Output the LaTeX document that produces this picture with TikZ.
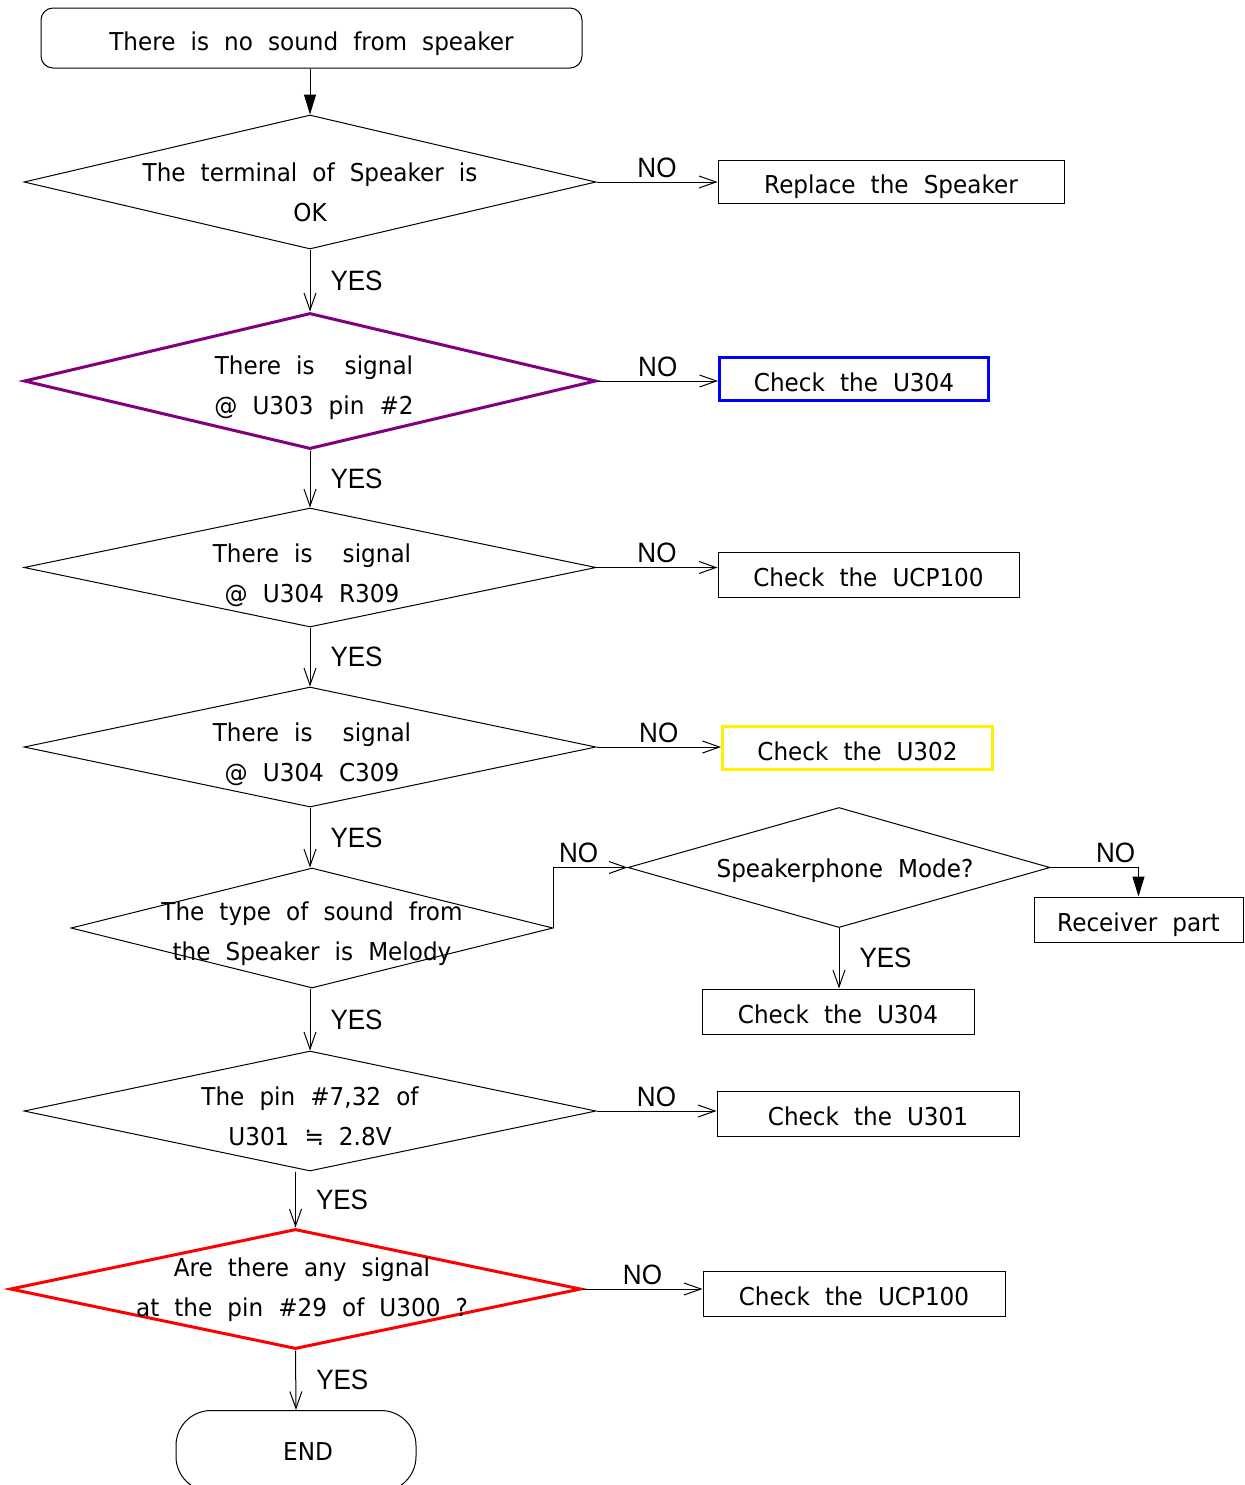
\documentclass[tikz,border=0pt]{standalone}
\usepackage{fontspec}
\setmainfont{DejaVu Sans}[FakeStretch=0.94, WordSpace=2.05]
\newfontfamily\ynfont{Liberation Sans}[FakeStretch=0.93]
\usetikzlibrary{shapes.geometric, arrows.meta}
\definecolor{decpurple}{RGB}{128,0,128}

\begin{document}
\begin{tikzpicture}[x=0.5pt, y=-0.5pt,
	txt/.style={align=center, inner sep=0pt, font=\fontsize{12.3}{20}\selectfont},
	decis/.style={diamond, draw, line width=0.5pt, inner sep=0pt},
	procbox/.style={rectangle, draw, line width=0.5pt, minimum height=22.5pt, txt, text height=12pt, text depth=0pt},
	termbox/.style={rectangle, rounded corners=#1, draw, line width=0.5pt, txt, text height=12pt, text depth=0pt},
	yn/.style={inner sep=0pt, font=\ynfont\fontsize{14}{16}\selectfont},
	openarr/.style={line width=0.5pt, -{Straight Barb[length=8.5pt, width=6pt]}},
	fillarr/.style={line width=0.5pt, -{Triangle[length=10pt, width=6pt]}}]
	\useasboundingbox (0,0) rectangle (1245,1485);

	\node[termbox=6pt, minimum width=270.5pt, minimum height=30pt] (start) at (311.5,38) {There is no sound from speaker};

	\node[decis, minimum width=286pt, minimum height=67pt] (d1) at (310,182) {};
	\node[txt] (t1) at (310,192) {The terminal of Speaker is\\OK};
	\node[decis, draw=decpurple, line width=1.5pt, minimum width=286pt, minimum height=68pt] (d2) at (310,381) {};
	\node[txt] (t2) at (314,388) {There is\ \ signal\\@ U303 pin \#2};
	\node[decis, minimum width=286pt, minimum height=59.5pt] (d3) at (310,567.5) {};
	\node[txt] (t3) at (312,575) {There is\ \ signal\\@ U304 R309};
	\node[decis, minimum width=286pt, minimum height=60pt] (d4) at (310,747) {};
	\node[txt] (t4) at (312,754) {There is\ \ signal\\@ U304 C309};
	\node[decis, minimum width=241pt, minimum height=60pt] (d5) at (312,928) {};
	\node[txt] (t5) at (312,934) {The type of sound from\\the Speaker is Melody};
	\node[decis, minimum width=211pt, minimum height=60pt] (d6) at (839,867.5) {};
	\node[txt] (t6) at (845,871) {Speakerphone Mode?};
	\node[decis, minimum width=286pt, minimum height=60pt] (d7) at (310,1111) {};
	\node[txt] (t7) at (310,1116) {The pin \#7,32 of\\U301 ≒ 2.8V};
	\node[decis, draw=red, line width=1.5pt, minimum width=285.5pt, minimum height=60pt] (d8) at (295.5,1289) {};
	\node[txt] (t8) at (302,1290) {Are there any signal\\at the pin \#29 of U300 ?};

	\node[procbox, minimum width=173pt, minimum height=21.5pt] (speaker) at (891,181.5) {Replace the Speaker};
	\node[procbox, draw=blue, line width=1.5pt, minimum width=134.5pt, minimum height=21.5pt] (u304a) at (854,379) {Check the U304};
	\node[procbox, minimum width=150.5pt] (ucpa) at (868.5,574.5) {Check the UCP100};
	\node[procbox, draw=yellow, line width=1.5pt, minimum width=135pt, minimum height=21.5pt] (u302) at (857.5,748) {Check the U302};
	\node[procbox, minimum width=104.5pt] (rcv) at (1138.5,919.5) {Receiver part};
	\node[procbox, minimum width=136pt] (u304b) at (838,1011.5) {Check the U304};
	\node[procbox, minimum width=151pt] (u301) at (868,1113.5) {Check the U301};
	\node[procbox, minimum width=151pt] (ucpb) at (854,1293.5) {Check the UCP100};
	\node[termbox=17.5pt, minimum width=120pt, minimum height=40.5pt, text height=9pt] (end) at (296,1451) {\hspace*{12pt}END};

	\draw[fillarr] (start.south -| d1.north) -- (d1.north);
	\draw[openarr] (d1.south) -- node[yn, right=10pt] {YES} (d2.north);
	\draw[openarr] (d2.south) -- node[yn, right=10pt] {YES} (d3.north);
	\draw[openarr] (d3.south) -- node[yn, right=10pt] {YES} (d4.north);
	\draw[openarr] (d4.south) -- node[yn, right=10pt] {YES} (d5.north -| d4.south);
	\draw[openarr] (d5.south -| d4.south) -- node[yn, right=10pt] {YES} (d7.north);
	\draw[openarr] (d7.south -| d8.north) -- node[yn, right=10pt] {YES} (d8.north);
	\draw[openarr] (d8.south) -- node[yn, right=10pt] {YES} (end.north);
	\draw[openarr] (d6.south) -- node[yn, right=10pt] {YES} (d6.south |- u304b.north);

	\draw[openarr] (d1.east) -- node[yn, above=2pt] {NO} (d1.east -| speaker.west);
	\draw[openarr] (d2.east) -- node[yn, above=2pt] {NO} (d2.east -| u304a.west);
	\draw[openarr] (d3.east) -- node[yn, above=2pt] {NO} (d3.east -| ucpa.west);
	\draw[openarr] (d4.east) -- node[yn, above=2pt] {NO} (d4.east -| u302.west);
	\draw[openarr] (d5.east) |- node[yn, above=2pt, pos=0.67] {NO} (d6.west);
	\draw[fillarr] (d6.east) -| node[yn, above=2pt, pos=0.37] {NO} (rcv.north);
	\draw[openarr] (d7.east) -- node[yn, above=2pt] {NO} (d7.east -| u301.west);
	\draw[openarr] (d8.east) -- node[yn, above=2pt] {NO} (d8.east -| ucpb.west);
\end{tikzpicture}
\end{document}
